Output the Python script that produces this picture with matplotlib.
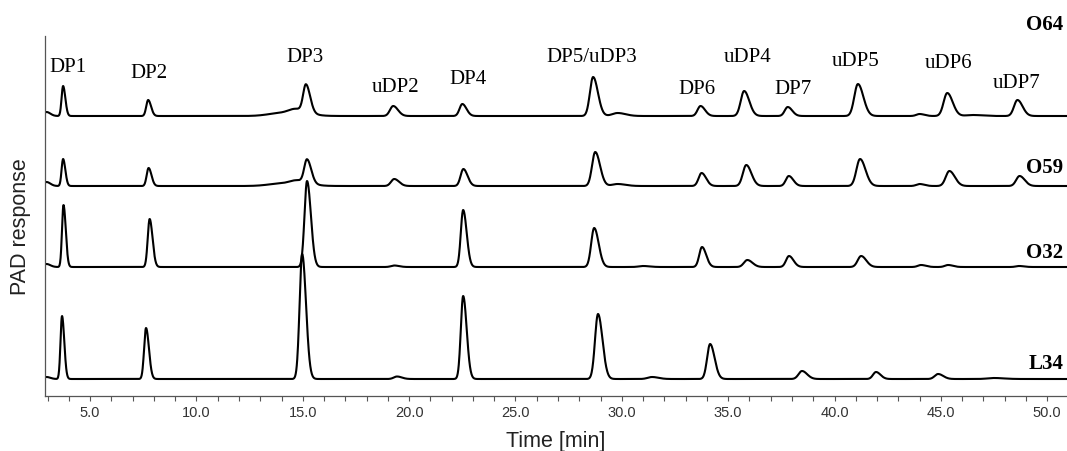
import numpy as np
import matplotlib
matplotlib.use("Agg")
import matplotlib.pyplot as plt
from matplotlib.ticker import MultipleLocator, FormatStrFormatter

# ==========================================
# DATA (peak tables)
# time [min], height [response units], sigma [min]
# ==========================================

samples = ["O64", "O59", "O32", "L34"]

o64_time = [2.95, 3.73, 7.73, 14.0, 14.7, 15.15, 19.25, 22.5, 28.65, 29.8, 33.7, 35.75, 37.8, 41.1, 44.0, 45.3, 46.5, 48.6]
o64_height = [4, 30, 16, 3, 5, 27, 10, 12, 39, 3, 10, 25, 9, 32, 2, 23, 1, 16]
o64_sigma = [0.12, 0.07, 0.09, 0.6, 0.35, 0.13, 0.15, 0.13, 0.15, 0.25, 0.14, 0.16, 0.14, 0.17, 0.15, 0.17, 0.3, 0.16]

o59_time = [2.95, 3.73, 7.75, 14.0, 14.75, 15.2, 19.3, 22.55, 28.75, 29.8, 33.75, 35.85, 37.85, 41.2, 44.0, 45.4, 48.7]
o59_height = [4, 27, 18, 2.5, 4, 23, 7, 17, 34, 2, 13, 21, 10, 27, 2, 15, 10]
o59_sigma = [0.12, 0.07, 0.09, 0.6, 0.35, 0.13, 0.15, 0.13, 0.15, 0.25, 0.14, 0.16, 0.14, 0.17, 0.15, 0.17, 0.16]

o32_time = [2.95, 3.75, 7.8, 15.2, 19.3, 22.54, 28.7, 31.0, 33.77, 35.9, 37.86, 41.25, 44.07, 45.34, 48.68]
o32_height = [3, 62, 48, 86, 1.5, 57, 39, 1, 20, 7, 11, 11, 2, 2, 1]
o32_sigma = [0.12, 0.07, 0.09, 0.12, 0.15, 0.11, 0.14, 0.2, 0.13, 0.16, 0.14, 0.16, 0.15, 0.15, 0.15]

l34_time = [2.95, 3.68, 7.63, 14.97, 19.43, 22.54, 28.88, 31.42, 34.15, 38.47, 41.95, 44.87, 47.5]
l34_height = [2, 63, 51, 125, 2.5, 83, 65, 2, 35, 8, 7, 5, 1]
l34_sigma = [0.12, 0.07, 0.09, 0.12, 0.15, 0.11, 0.14, 0.2, 0.14, 0.16, 0.14, 0.16, 0.3]

peak_labels = ["DP1", "DP2", "DP3", "uDP2", "DP4", "DP5/uDP3", "DP6", "uDP4", "DP7", "uDP5", "uDP6", "uDP7"]
peak_label_time = [3.97, 7.79, 15.11, 19.34, 22.77, 28.6, 33.54, 35.89, 38.05, 40.97, 45.34, 48.58]

# ==========================================
# LAYOUT
# ==========================================

offsets = [280, 210, 129, 17]
label_y = [330, 323, 339, 310, 317, 339, 308, 340, 307, 335, 333, 313]
name_y = [372, 229, 144, 33]

X_MIN, X_MAX = 2.88, 50.93


def trace(t, times, heights, sigmas):
    y = np.zeros_like(t)
    for t0, h, s in zip(times, heights, sigmas):
        s_eff = np.where(t < t0, s, 1.5 * s)
        y += h * np.exp(-0.5 * ((t - t0) / s_eff) ** 2)
    return y


t = np.linspace(X_MIN, X_MAX, 4000)

tables = [
    (o64_time, o64_height, o64_sigma),
    (o59_time, o59_height, o59_sigma),
    (o32_time, o32_height, o32_sigma),
    (l34_time, l34_height, l34_sigma),
]

fig = plt.figure(figsize=(10.67, 4.52), dpi=100)
ax = fig.add_axes([45 / 1067, 55 / 452, 1022 / 1067, 360 / 452])

for (times, heights, sigmas), off in zip(tables, offsets):
    ax.plot(t, off + trace(t, times, heights, sigmas), color="black", lw=1.5, solid_joinstyle="round")

for name, y in zip(samples, name_y):
    ax.text(50.75, y, name, ha="right", va="center", family="Liberation Serif",
            fontweight="bold", fontsize=15, clip_on=False)

for lab, x, y in zip(peak_labels, peak_label_time, label_y):
    ax.text(x, y, lab, ha="center", va="center", family="Liberation Serif", fontsize=15)

ax.set_xlim(X_MIN, X_MAX)
ax.set_ylim(0, 360)

ax.xaxis.set_major_locator(MultipleLocator(5))
ax.xaxis.set_minor_locator(MultipleLocator(1))
ax.xaxis.set_major_formatter(FormatStrFormatter("%.1f"))
ax.tick_params(axis="x", which="both", direction="out", length=3.5, width=0.8,
               color="#555555", labelsize=10.5, labelcolor="#333333", pad=3)
for lbl in ax.get_xticklabels():
    lbl.set_family("Liberation Sans")
ax.set_yticks([])

for side in ["top", "right"]:
    ax.spines[side].set_visible(False)
for side in ["left", "bottom"]:
    ax.spines[side].set_color("#555555")
    ax.spines[side].set_linewidth(0.9)

ax.set_xlabel("Time [min]", family="Liberation Sans", fontsize=15.5, color="#222222", labelpad=8)
fig.text(21 / 1067, 1 - 227 / 452, "PAD response", rotation=90, ha="center", va="center",
         family="Liberation Sans", fontsize=15.5, color="#222222")

fig.savefig("out.png", dpi=100)
